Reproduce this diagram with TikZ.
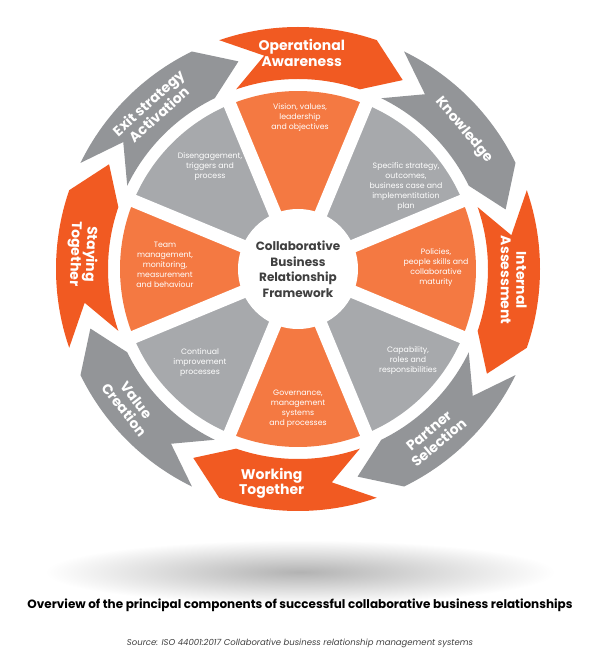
\documentclass[tikz,border=0pt]{standalone}
\usepackage{fontspec}
\setmainfont{Poppins}
\usetikzlibrary{calc}
\definecolor{ringO}{HTML}{F15A22}
\definecolor{ringG}{HTML}{939598}
\definecolor{secO}{HTML}{F47942}
\definecolor{secG}{HTML}{A7A9AC}
\definecolor{ctr}{HTML}{404040}
\tikzset{
  ringlbl/.style={text=white,font=\fontsize{14}{15.5}\selectfont\bfseries,align=center,inner sep=0},
  seclbl/.style={text=white,font=\fontsize{7.8}{10}\selectfont,align=center,inner sep=0},
}
\begin{document}
\begin{tikzpicture}[x=1pt,y=1pt]
\useasboundingbox (0,0) rectangle (600,657);
\fill[white] (0,0) rectangle (600,657);
\coordinate (C) at (298,388);
% shadow
\shade[inner color=black!30,outer color=white] (300,85) ellipse[x radius=255,y radius=32];
% ring segments
\foreach \c/\col in {87/ringO,42/ringG,-3/ringO,-48/ringG,-93/ringO,-138/ringG,177/ringO,132/ringG}{
  \fill[\col] ($(C)+(\c+22:242)$) arc[start angle=\c+22,end angle=\c-16,radius=242]
    -- ($(C)+(\c-26:216)$) -- ($(C)+(\c-16:190)$)
    arc[start angle=\c-16,end angle=\c+22,radius=190]
    -- ($(C)+(\c+12:216)$) -- cycle;
}
% sectors
\foreach \t/\col in {90/secO,45/secG,0/secO,-45/secG,-90/secO,-135/secG,180/secO,135/secG}{
  \fill[\col] (C) -- ($(C)+(\t-22.5:178)$) arc[start angle=\t-22.5,end angle=\t+22.5,radius=178] -- cycle;
}
\foreach \k in {0,...,7}{
  \draw[white,line width=13] (C) -- ($(C)+(22.5+45*\k:185)$);
}
\fill[white] (C) circle[radius=60];
% center
\node[font=\fontsize{12}{15.5}\selectfont\bfseries,text=ctr,align=center] (ctrtxt) at (C) {Collaborative\\Business\\Relationship\\Framework};
% ring labels
\node[ringlbl] (op) at ($(C)+(89:216)$) {Operational\\Awareness};
\node[ringlbl,rotate=-50] (kn) at ($(C)+(40:216)$) {Knowledge};
\node[ringlbl,rotate=-90] (ia) at ($(C)+(-3:216)$) {Internal\\Assessment};
\node[ringlbl,rotate=40] (ps) at ($(C)+(-51:216)$) {Partner\\Selection};
\node[ringlbl] (wt) at ($(C)+(-97:216)$) {Working\\Together};
\node[ringlbl,rotate=-52] (vc) at ($(C)+(-141:216)$) {Value\\Creation};
\node[ringlbl,rotate=-92] (st) at ($(C)+(176:216)$) {Staying\\Together};
\node[ringlbl,rotate=42] (ex) at ($(C)+(132:216)$) {Exit strategy\\Activation};
% sector labels
\node[seclbl] (s1) at (300,539) {Vision, values,\\leadership\\and objectives};
\node[seclbl] (s2) at (406,470) {Specific strategy,\\outcomes,\\business case and\\implementitation\\plan};
\node[seclbl] (s3) at (436,389) {Policies,\\people skills and\\collaborative\\maturity};
\node[seclbl] (s4) at (408,296) {Capability,\\roles and\\responsibilities};
\node[seclbl] (s5) at (298,248) {Governance,\\management\\systems\\and processes};
\node[seclbl] (s6) at (200,294) {Continual\\improvement\\processes};
\node[seclbl] (s7) at (165,392) {Team\\management,\\monitoring,\\measurement\\and behaviour};
\node[seclbl] (s8) at (210,490) {Disengagement,\\triggers and\\process};
% captions
\node[font=\fontsize{12}{14}\selectfont\bfseries] (cap) at (300,52) {Overview of the principal components of successful collaborative business relationships};
\node[font=\fontsize{8.5}{10}\selectfont\itshape,text=black!75] (src) at (300,14) {Source: ISO 44001:2017 Collaborative business relationship management systems};
\end{tikzpicture}
\end{document}
